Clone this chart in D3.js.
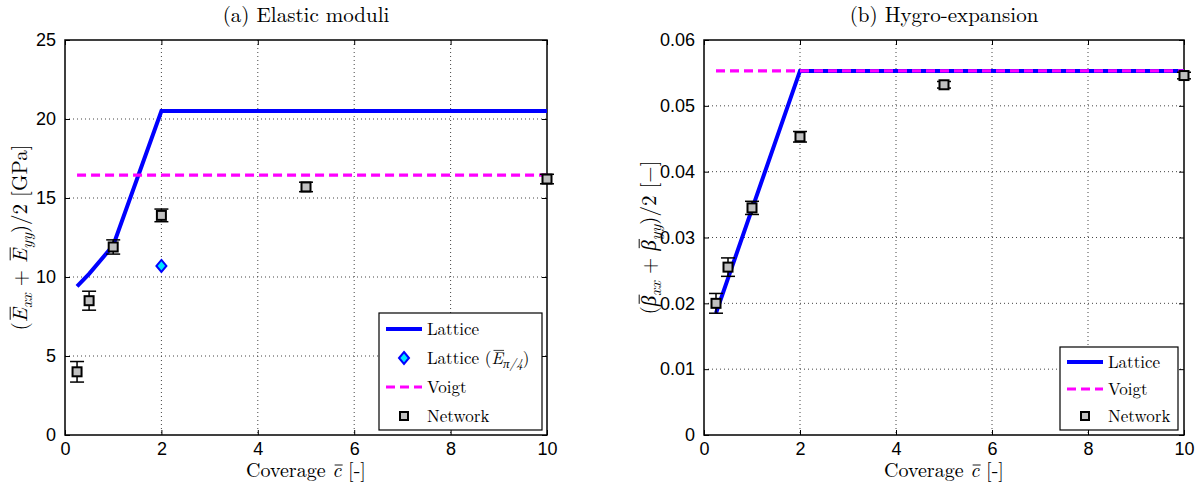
<!DOCTYPE html>
<html>
<head>
<meta charset="utf-8">
<title>Coverage</title>
<script src="https://d3js.org/d3.v7.min.js"></script>
<style>
  body { margin: 0; background: #fff; }
</style>
</head>
<body>
<script>
// ---- data ----
var xTicks = [0, 2, 4, 6, 8, 10];
var coverage = [0.25, 0.5, 1, 2, 5, 10];

// (a) elastic moduli [GPa]
var eTicks = [0, 5, 10, 15, 20, 25];
var latticeEx = [0.25, 0.5, 1, 2, 10];
var latticeE = [9.4, 10.2, 12.0, 20.5, 20.5];
var lattice45x = [2];
var lattice45E = [10.7];
var voigtEx = [0.25, 10];
var voigtE = [16.45, 16.45];
var networkE = [4.0, 8.5, 11.9, 13.9, 15.7, 16.2];
var networkEerr = [0.65, 0.6, 0.45, 0.4, 0.3, 0.3];

// (b) hygro-expansion [-]
var bTicks = [0, 0.01, 0.02, 0.03, 0.04, 0.05, 0.06];
var latticeBx = [0.25, 0.5, 1, 2, 10];
var latticeB = [0.0185, 0.0238, 0.0343, 0.0553, 0.0553];
var voigtBx = [0.25, 10];
var voigtB = [0.0553, 0.0553];
var networkB = [0.0200, 0.0255, 0.0345, 0.0453, 0.0532, 0.0546];
var networkBerr = [0.0015, 0.0014, 0.0010, 0.0008, 0.0005, 0.0005];

var W = 1202, H = 484;
var SERIF = "'Latin Modern Roman', 'Liberation Serif', serif";
var SANS = "'Liberation Sans', Arial, Helvetica, sans-serif";
var svg = d3.select("body").append("svg").attr("width", W).attr("height", H);

function stext(sel, size) {
  return sel.append("text").attr("font-family", SERIF).attr("font-size", size).attr("fill", "#000");
}

// rich text: segments {t, it, sub, ov}; overlines drawn as lines over glyph extents
function rich(parent, x, y, size, segs, anchor) {
  var t = stext(parent, size).attr("x", x).attr("y", y);
  if (anchor) t.attr("text-anchor", anchor);
  var idx = 0, down = false, ovs = [];
  var sh = Math.round(size * 0.25);
  segs.forEach(function (s) {
    var sp = t.append("tspan").text(s.t);
    if (s.it) sp.attr("font-style", "italic");
    if (s.sub) { sp.attr("font-size", Math.round(size * 0.74)); if (!down) { sp.attr("dy", sh); down = true; } }
    else if (down) { sp.attr("dy", -sh); down = false; }
    if (s.ov) ovs.push([idx, s.low ? 0.6 : 0.8]);
    idx += s.t.length;
  });
  var node = t.node();
  ovs.forEach(function (o) {
    var b = node.getExtentOfChar(o[0]);
    parent.append("line")
      .attr("x1", b.x + size * 0.12).attr("x2", b.x + b.width + size * 0.06)
      .attr("y1", y - size * o[1]).attr("y2", y - size * o[1])
      .attr("stroke", "#000").attr("stroke-width", size * 0.045);
  });
  return t;
}

function panel(cfg) {
  var x = d3.scaleLinear().domain([0, 10]).range([cfg.left, cfg.right]);
  var y = d3.scaleLinear().domain(cfg.ydom).range([cfg.bottom, cfg.top]);
  var g = svg.append("g");

  // grid
  g.selectAll(".gx").data(xTicks.slice(1, -1)).enter().append("line")
    .attr("x1", d => x(d)).attr("x2", d => x(d))
    .attr("y1", cfg.top).attr("y2", cfg.bottom)
    .attr("stroke", "#444").attr("stroke-width", 1).attr("stroke-dasharray", "1,3");
  g.selectAll(".gy").data(cfg.yticks.slice(1, -1)).enter().append("line")
    .attr("x1", cfg.left).attr("x2", cfg.right)
    .attr("y1", d => y(d)).attr("y2", d => y(d))
    .attr("stroke", "#444").attr("stroke-width", 1).attr("stroke-dasharray", "1,3");

  // axes with inward ticks, all four sides
  g.append("g").attr("transform", "translate(0," + cfg.bottom + ")")
    .call(d3.axisBottom(x).tickValues(xTicks).tickSizeInner(-5).tickSizeOuter(0).tickPadding(7).tickFormat(d3.format("d")));
  g.append("g").attr("transform", "translate(0," + cfg.top + ")")
    .call(d3.axisTop(x).tickValues(xTicks).tickSizeInner(-5).tickSizeOuter(0).tickFormat(""));
  g.append("g").attr("transform", "translate(" + cfg.left + ",0)")
    .call(d3.axisLeft(y).tickValues(cfg.yticks).tickSizeInner(-5).tickSizeOuter(0).tickPadding(9).tickFormat(cfg.fmt));
  g.append("g").attr("transform", "translate(" + cfg.right + ",0)")
    .call(d3.axisRight(y).tickValues(cfg.yticks).tickSizeInner(-5).tickSizeOuter(0).tickFormat(""));
  g.selectAll(".domain").remove();
  g.selectAll(".tick line").attr("stroke", "#000");
  g.selectAll(".tick text").attr("font-size", 18).attr("font-family", SANS).attr("fill", "#000");
  g.append("rect").attr("x", cfg.left).attr("y", cfg.top)
    .attr("width", cfg.right - cfg.left).attr("height", cfg.bottom - cfg.top)
    .attr("fill", "none").attr("stroke", "#000").attr("stroke-width", 1.5);

  var line = d3.line().x(d => x(d[0])).y(d => y(d[1]));
  // lattice
  g.append("path").datum(d3.zip(cfg.latX, cfg.lat)).attr("d", line)
    .attr("fill", "none").attr("stroke", "#0000ff").attr("stroke-width", 4);
  // voigt
  g.append("path").datum(d3.zip(cfg.voX, cfg.vo)).attr("d", line)
    .attr("fill", "none").attr("stroke", "#ff00ff").attr("stroke-width", 3.2)
    .attr("stroke-dasharray", "9,5");
  // diamond
  if (cfg.dX) {
    g.selectAll(".dia").data(d3.zip(cfg.dX, cfg.dY)).enter().append("path")
      .attr("d", "M0,-6L5,0L0,6L-5,0Z")
      .attr("transform", d => "translate(" + x(d[0]) + "," + y(d[1]) + ")")
      .attr("fill", "#00e5ff").attr("stroke", "#0000ff").attr("stroke-width", 2);
  }
  // network with error bars
  var net = coverage.map((c, i) => [c, cfg.net[i], cfg.err[i]]);
  var eb = g.selectAll(".eb").data(net).enter().append("g");
  eb.append("line").attr("x1", d => x(d[0])).attr("x2", d => x(d[0]))
    .attr("y1", d => y(d[1] - d[2])).attr("y2", d => y(d[1] + d[2]))
    .attr("stroke", "#000").attr("stroke-width", 1.5);
  [-1, 1].forEach(function (s) {
    eb.append("line").attr("x1", d => x(d[0]) - 7).attr("x2", d => x(d[0]) + 7)
      .attr("y1", d => y(d[1] + s * d[2])).attr("y2", d => y(d[1] + s * d[2]))
      .attr("stroke", "#000").attr("stroke-width", 1.5);
  });
  eb.append("rect").attr("x", d => x(d[0]) - 4.5).attr("y", d => y(d[1]) - 4.5)
    .attr("width", 9).attr("height", 9)
    .attr("fill", "#c0c0c0").attr("stroke", "#000").attr("stroke-width", 2);

  // title and x label
  stext(g, 21).attr("x", (cfg.left + cfg.right) / 2).attr("y", 22)
    .attr("text-anchor", "middle").text(cfg.title);
  rich(g, (cfg.left + cfg.right) / 2, 477, 20, [
    { t: "Coverage " }, { t: "c", it: true, ov: true, low: true }, { t: " [-]" }
  ], "middle");

  // y label (rotated)
  var yg = g.append("g")
    .attr("transform", "translate(" + cfg.ylabX + "," + ((cfg.top + cfg.bottom) / 2) + ") rotate(-90)");
  rich(yg, 0, 0, 21, [
    { t: "(" }, { t: cfg.sym, it: true, ov: true }, { t: "xx", it: true, sub: true },
    { t: " + " }, { t: cfg.sym, it: true, ov: true }, { t: "yy", it: true, sub: true },
    { t: ")/2 " + cfg.unit }
  ], "middle");

  // legend
  var L = cfg.legend;
  g.append("rect").attr("x", L.x).attr("y", L.y).attr("width", L.w).attr("height", L.h)
    .attr("fill", "#fff").attr("stroke", "#000").attr("stroke-width", 1.2);
  L.items.forEach(function (it, i) {
    var yy = L.y + L.y0 + i * L.dy;
    var x0 = L.x + 7, x1 = L.x + 43, xm = (x0 + x1) / 2;
    if (it.type === "lat") {
      g.append("line").attr("x1", x0).attr("x2", x1).attr("y1", yy).attr("y2", yy)
        .attr("stroke", "#0000ff").attr("stroke-width", 4);
    } else if (it.type === "voigt") {
      g.append("line").attr("x1", x0).attr("x2", x1).attr("y1", yy).attr("y2", yy)
        .attr("stroke", "#ff00ff").attr("stroke-width", 3.2).attr("stroke-dasharray", "9,5");
    } else if (it.type === "dia") {
      g.append("path").attr("d", "M0,-6L5,0L0,6L-5,0Z").attr("transform", "translate(" + xm + "," + yy + ")")
        .attr("fill", "#00e5ff").attr("stroke", "#0000ff").attr("stroke-width", 2);
    } else {
      g.append("rect").attr("x", xm - 4).attr("y", yy - 4).attr("width", 8).attr("height", 8)
        .attr("fill", "#c0c0c0").attr("stroke", "#000").attr("stroke-width", 2);
    }
    var segs = [{ t: it.label }];
    if (it.type === "dia") {
      segs = segs.concat([{ t: " (" }, { t: "E", it: true, ov: true },
        { t: "\u03c0/4", it: true, sub: true }, { t: ")" }]);
    }
    rich(g, x1 + 5, yy + 6, 17, segs);
  });
}

panel({
  left: 65, right: 547, top: 40, bottom: 435,
  ydom: [0, 25], yticks: eTicks, fmt: d3.format("d"),
  latX: latticeEx, lat: latticeE, voX: voigtEx, vo: voigtE,
  dX: lattice45x, dY: lattice45E,
  net: networkE, err: networkEerr,
  title: "(a) Elastic moduli", sym: "E", unit: "[GPa]", ylabX: 27,
  legend: { x: 379, y: 313, w: 163, h: 117, y0: 16, dy: 29,
    items: [{ type: "lat", label: "Lattice" }, { type: "dia", label: "Lattice" },
            { type: "voigt", label: "Voigt" }, { type: "net", label: "Network" }] }
});

panel({
  left: 704, right: 1184, top: 40, bottom: 435,
  ydom: [0, 0.06], yticks: bTicks, fmt: d => d === 0 ? "0" : d3.format(".2f")(d),
  latX: latticeBx, lat: latticeB, voX: voigtBx, vo: voigtB,
  net: networkB, err: networkBerr,
  title: "(b) Hygro-expansion", sym: "\u03b2", unit: " [\u2212]", ylabX: 656,
  legend: { x: 1060, y: 347, w: 118, h: 83, y0: 15, dy: 27,
    items: [{ type: "lat", label: "Lattice" }, { type: "voigt", label: "Voigt" },
            { type: "net", label: "Network" }] }
});
</script>
</body>
</html>
